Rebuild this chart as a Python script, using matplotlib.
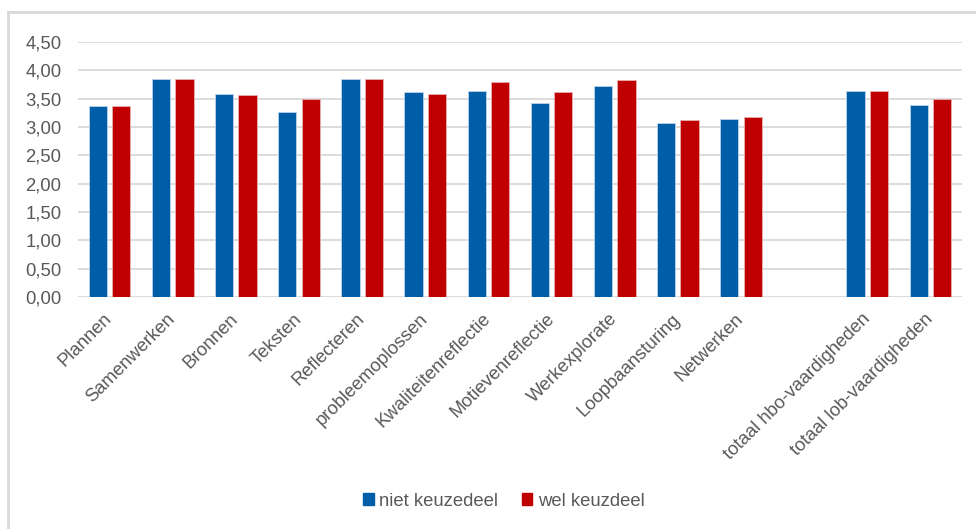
import matplotlib.pyplot as plt
import numpy as np
from matplotlib.lines import Line2D
from matplotlib.patches import Patch

categories = ['Plannen', 'Samenwerken', 'Bronnen', 'Teksten', 'Reflecteren',
              'probleemoplossen', 'Kwaliteitenreflectie', 'Motievenreflectie',
              'Werkexplorate', 'Loopbaansturing', 'Netwerken', '',
              'totaal hbo-vaardigheden', 'totaal lob-vaardigheden']
niet_keuzedeel = [3.37, 3.84, 3.59, 3.27, 3.84, 3.61, 3.63, 3.43, 3.73, 3.07, 3.14,
                  np.nan, 3.64, 3.39]
wel_keuzedeel = [3.37, 3.84, 3.57, 3.50, 3.85, 3.58, 3.79, 3.61, 3.83, 3.13, 3.17,
                 np.nan, 3.63, 3.50]
series_names = ['niet keuzedeel', 'wel keuzdeel']
yticks = np.arange(0, 4.51, 0.5)

blue = '#005da8'
red = '#c00000'
grey_txt = '#595959'
fs = 13.3

plt.rcParams['font.family'] = ['Liberation Sans', 'DejaVu Sans']

fig = plt.figure(figsize=(9.76, 5.29), dpi=100)
W, H = 976, 529
ax = fig.add_axes([78 / W, 1 - 297 / H, (962 - 78) / W, (297 - 42) / H])

x = np.arange(len(categories))
ax.bar(x - 0.185, niet_keuzedeel, width=0.29, color=blue, edgecolor='#bcd3ea', linewidth=0.6, zorder=3)
ax.bar(x + 0.185, wel_keuzedeel, width=0.29, color=red, edgecolor='#eab0b0', linewidth=0.6, zorder=3)

ax.set_xlim(-0.5, len(categories) - 0.5)
ax.set_ylim(0, 4.5)
ax.set_yticks(yticks)
ax.set_yticklabels([f'{v:.2f}'.replace('.', ',') for v in yticks], fontsize=fs, color=grey_txt)
ax.yaxis.grid(True, color='#d9d9d9', linewidth=1.3, zorder=0)
ax.set_axisbelow(True)
for s in ax.spines.values():
    s.set_visible(False)
ax.tick_params(axis='both', length=0)
ax.tick_params(axis='y', pad=12)

ax.set_xticks(x)
ax.set_xticklabels(categories, rotation=45, ha='right', va='center', rotation_mode='anchor',
                   fontsize=fs, color=grey_txt)
ax.tick_params(axis='x', pad=14)

handles = [Patch(color=blue), Patch(color=red)]
fig.legend(handles, series_names, loc='center', bbox_to_anchor=(504 / W, 1 - 501 / H),
           ncol=2, frameon=False, fontsize=fs, labelcolor=grey_txt,
           handlelength=0.55, handleheight=0.55, handletextpad=0.3, columnspacing=1.3)

# outer chart border
fig.add_artist(Line2D([8 / W, 8 / W], [0, 1 - 12 / H], color='#d9d9d9', linewidth=2))
fig.add_artist(Line2D([8 / W, 1], [1 - 12 / H, 1 - 12 / H], color='#d9d9d9', linewidth=2))

fig.savefig('out.png', dpi=100)
